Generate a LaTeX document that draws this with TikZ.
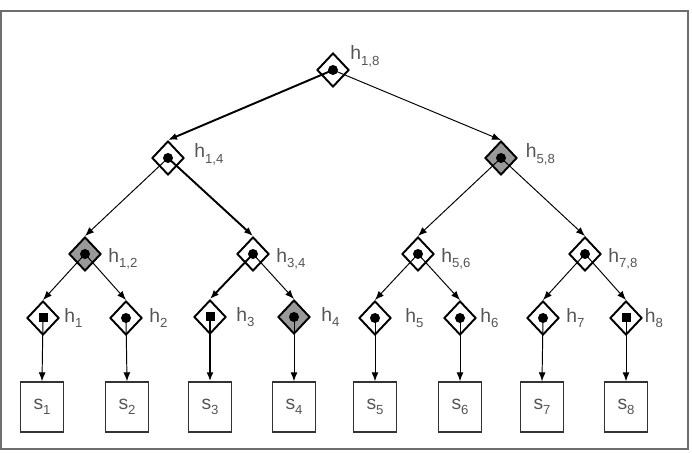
\documentclass[tikz,border=0pt]{standalone}
\usepackage{fontspec}
\setmainfont{Liberation Sans}
\usetikzlibrary{shapes.geometric,arrows.meta}
\definecolor{txtgray}{RGB}{85,85,85}
\definecolor{framegray}{RGB}{110,110,110}
\newcommand{\sublab}[2]{#1\raisebox{-3.2pt}{\fontsize{7.5}{8}\selectfont #2}}

\begin{document}
\begin{tikzpicture}[x=0.2mm, y=-0.2mm, font=\fontsize{11}{13}\selectfont]
    % Node styles
    \tikzstyle{hash node}=[diamond,draw,line width=1.1pt,minimum width=6.4mm,minimum height=6.8mm,inner sep=0pt,fill=white,
        path picture={\fill[black] (path picture bounding box.center) circle (1mm);}]
    \tikzstyle{hash sq node}=[hash node,
        path picture={\fill[black,shift={(path picture bounding box.center)}] (-0.9mm,-0.9mm) rectangle (0.9mm,0.9mm);}]
    \tikzstyle{lbl}=[text=txtgray,inner sep=0pt,label distance=1.2mm]
    \tikzstyle{leaf box}=[rectangle,draw=black!80,line width=0.8pt,minimum width=8.6mm,minimum height=10mm,inner sep=0pt,text=txtgray]
    \tikzstyle{edge}=[-{Latex[length=1.8mm,width=1.4mm]},line width=0.55pt]
    \tikzstyle{path edge}=[edge,line width=1.1pt]

    % --- Frame ---
    \useasboundingbox (0,0) rectangle (692,454);
    \draw[framegray, line width=1.1pt] (1,11) rectangle (688,449);

    % --- Level 0: root ---
    \node[hash node, label={[lbl, label distance=0pt, yshift=2.7mm]right:\sublab{h}{1,8}}] (h18) at (333,70) {};

    % --- Level 1 ---
    \node[hash node, label={[lbl, label distance=1.8mm, yshift=0.7mm]right:\sublab{h}{1,4}}] (h14) at (168,158) {};
    \node[hash node, fill=black!40, label={[lbl, label distance=1.5mm, yshift=0.7mm]right:\sublab{h}{5,8}}] (h58) at (501,158) {};

    % --- Level 2 ---
    \node[hash node, fill=black!40, label={[lbl, yshift=-1mm]right:\sublab{h}{1,2}}] (h12) at (85,254) {};
    \node[hash node, label={[lbl, yshift=-1mm]right:\sublab{h}{3,4}}] (h34) at (253,254) {};
    \node[hash node, label={[lbl, yshift=-1mm]right:\sublab{h}{5,6}}] (h56) at (418,254) {};
    \node[hash node, label={[lbl, yshift=-1mm]right:\sublab{h}{7,8}}] (h78) at (585,254) {};

    % --- Level 3: leaf hashes ---
    \node[hash sq node, label={[lbl, label distance=0.8mm]right:\sublab{h}{1}}] (h1) at (43,318) {};
    \node[hash node, label={[lbl]right:\sublab{h}{2}}] (h2) at (126,318) {};
    \node[hash sq node, label={[lbl, label distance=1.8mm]right:\sublab{h}{3}}] (h3) at (210,317) {};
    \node[hash node, fill=black!40, label={[lbl, label distance=2mm]right:\sublab{h}{4}}] (h4) at (294,317) {};
    \node[hash node, label={[lbl, label distance=2.6mm]right:\sublab{h}{5}}] (h5) at (375,318) {};
    \node[hash node, label={[lbl, label distance=0.6mm]right:\sublab{h}{6}}] (h6) at (460,318) {};
    \node[hash node, label={[lbl]right:\sublab{h}{7}}] (h7) at (543,318) {};
    \node[hash sq node, label={[lbl, label distance=0.3mm]right:\sublab{h}{8}}] (h8) at (626,318) {};

    % --- Data blocks ---
    \node[leaf box] (s1) at (42,407) {\sublab{s}{1}};
    \node[leaf box] (s2) at (127,407) {\sublab{s}{2}};
    \node[leaf box] (s3) at (210,407) {\sublab{s}{3}};
    \node[leaf box] (s4) at (294,407) {\sublab{s}{4}};
    \node[leaf box] (s5) at (375,407) {\sublab{s}{5}};
    \node[leaf box] (s6) at (460,407) {\sublab{s}{6}};
    \node[leaf box] (s7) at (542,407) {\sublab{s}{7}};
    \node[leaf box] (s8) at (626,407) {\sublab{s}{8}};

    % --- Edges (path to s3 drawn thicker) ---
    \draw[path edge] (h18.center) -- (h14.north);
    \draw[edge] (h18.center) -- (h58.north);

    \draw[edge] (h14.center) -- (h12.north);
    \draw[path edge] (h14.center) -- (h34.north);
    \draw[edge] (h58.center) -- (h56.north);
    \draw[edge] (h58.center) -- (h78.north);

    \draw[edge] (h12.center) -- (h1.north);
    \draw[edge] (h12.center) -- (h2.north);
    \draw[path edge] (h34.center) -- (h3.north);
    \draw[edge] (h34.center) -- (h4.north);
    \draw[edge] (h56.center) -- (h5.north);
    \draw[edge] (h56.center) -- (h6.north);
    \draw[edge] (h78.center) -- (h7.north);
    \draw[edge] (h78.center) -- (h8.north);

    \draw[edge] (h1.center) -- (s1.north);
    \draw[edge] (h2.center) -- (s2.north);
    \draw[path edge] (h3.center) -- (s3.north);
    \draw[edge] (h4.center) -- (s4.north);
    \draw[edge] (h5.center) -- (s5.north);
    \draw[edge] (h6.center) -- (s6.north);
    \draw[edge] (h7.center) -- (s7.north);
    \draw[edge] (h8.center) -- (s8.north);

\end{tikzpicture}
\end{document}
